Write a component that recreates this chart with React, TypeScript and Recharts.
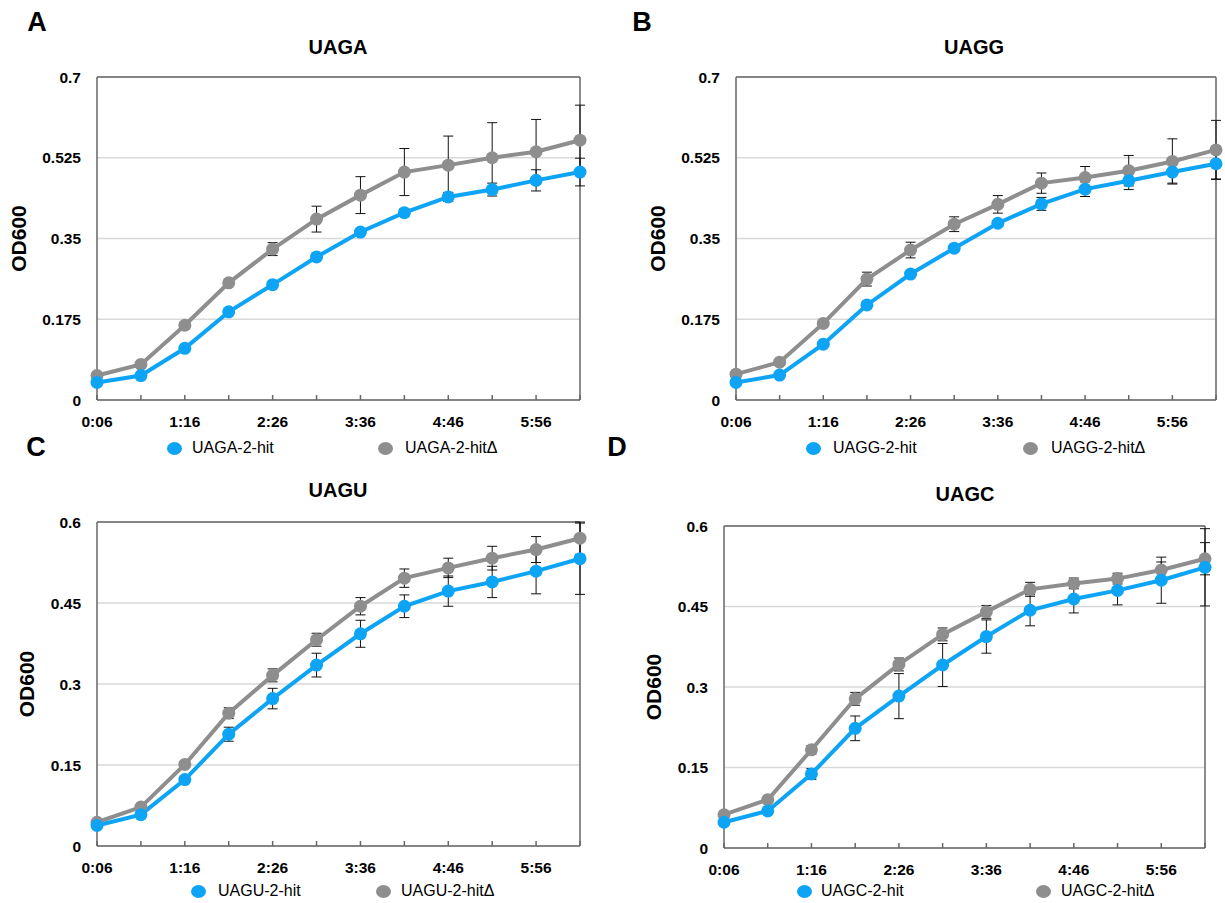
import { LineChart, Line, XAxis, YAxis, CartesianGrid, ErrorBar, ReferenceLine } from "recharts";

const times = ["0:06", "0:41", "1:16", "1:51", "2:26", "3:01", "3:36", "4:11", "4:46", "5:21", "5:56", "6:31"];

// UAGA
const uagaHit = [0.038, 0.053, 0.112, 0.191, 0.25, 0.31, 0.364, 0.406, 0.44, 0.456, 0.476, 0.494];
const uagaHitErr = [0.002, 0.002, 0.002, 0.002, 0.002, 0.003, 0.006, 0.008, 0.01, 0.014, 0.023, 0.03];
const uagaDelta = [0.053, 0.077, 0.162, 0.254, 0.327, 0.392, 0.444, 0.494, 0.509, 0.525, 0.538, 0.563];
const uagaDeltaErr = [0.003, 0.003, 0.008, 0.005, 0.014, 0.028, 0.04, 0.051, 0.063, 0.076, 0.07, 0.076];

// UAGG
const uaggHit = [0.038, 0.054, 0.121, 0.206, 0.273, 0.329, 0.383, 0.425, 0.457, 0.475, 0.494, 0.512];
const uaggHitErr = [0.002, 0.002, 0.003, 0.003, 0.003, 0.004, 0.006, 0.014, 0.016, 0.019, 0.024, 0.033];
const uaggDelta = [0.056, 0.082, 0.166, 0.262, 0.325, 0.381, 0.424, 0.47, 0.482, 0.497, 0.517, 0.542];
const uaggDeltaErr = [0.003, 0.003, 0.004, 0.015, 0.017, 0.016, 0.019, 0.022, 0.024, 0.033, 0.049, 0.064];

// UAGU
const uaguHit = [0.038, 0.058, 0.123, 0.207, 0.273, 0.335, 0.393, 0.444, 0.472, 0.489, 0.509, 0.532];
const uaguHitErr = [0.003, 0.003, 0.006, 0.013, 0.019, 0.022, 0.025, 0.021, 0.028, 0.029, 0.042, 0.066];
const uaguDelta = [0.044, 0.072, 0.151, 0.246, 0.316, 0.382, 0.444, 0.496, 0.515, 0.533, 0.549, 0.57];
const uaguDeltaErr = [0.003, 0.003, 0.004, 0.01, 0.012, 0.012, 0.016, 0.017, 0.018, 0.022, 0.024, 0.03];

// UAGC
const uagcHit = [0.048, 0.069, 0.138, 0.223, 0.283, 0.341, 0.394, 0.443, 0.464, 0.48, 0.499, 0.523];
const uagcHitErr = [0.003, 0.005, 0.01, 0.023, 0.042, 0.04, 0.031, 0.029, 0.026, 0.027, 0.043, 0.072];
const uagcDelta = [0.062, 0.09, 0.183, 0.278, 0.342, 0.398, 0.44, 0.482, 0.493, 0.502, 0.518, 0.539];
const uagcDeltaErr = [0.003, 0.003, 0.008, 0.012, 0.012, 0.012, 0.012, 0.013, 0.01, 0.01, 0.015, 0.03];

const ticks07 = [0, 0.175, 0.35, 0.525, 0.7];
const ticks06 = [0, 0.15, 0.3, 0.45, 0.6];

const BLUE = "#0ea4f6";
const GRAY = "#8e8e8e";
const AXIS = "#666";
const FONT = '"Liberation Sans", Arial, Helvetica, sans-serif';

type TxtProps = { x: number; y: number; size: number; bold?: boolean; center?: boolean; children: any };

const Txt = ({ x, y, size, bold, center = true, children }: TxtProps) => (
  <div
    style={{
      position: "absolute",
      left: x,
      top: y,
      transform: `translate(${center ? "-50%" : "0"}, -50%)`,
      fontFamily: FONT,
      fontSize: size,
      fontWeight: bold ? 700 : 400,
      lineHeight: 1,
      whiteSpace: "nowrap",
      color: "#000",
    }}
  >
    {children}
  </div>
);

const LegendItem = ({ mx, tx, y, color, label }: { mx: number; tx: number; y: number; color: string; label: string }) => (
  <>
    <div
      style={{
        position: "absolute",
        left: mx - 7.5,
        top: y - 6.5,
        width: 15,
        height: 13,
        borderRadius: "50%",
        background: color,
      }}
    />
    <Txt x={tx} y={y} size={16} center={false}>
      {label}
    </Txt>
  </>
);

type PanelProps = {
  title: string;
  hit: number[];
  hitErr: number[];
  delta: number[];
  deltaErr: number[];
  max: number;
  ticks: number[];
  x0: number;
  x1: number;
  y0: number;
  y1: number;
  labelOffset: number;
  titleX: number;
  titleY: number;
  legend: { bx: number; btx: number; gx: number; gtx: number; y: number };
};

const Panel = (p: PanelProps) => {
  const data = times.map((t, i) => ({
    time: t,
    hit: p.hit[i],
    hitErr: p.hitErr[i],
    delta: p.delta[i],
    deltaErr: p.deltaErr[i],
  }));
  const left = p.x0 - 97;
  const top = p.y0 - 10;
  const width = p.x1 - p.x0 + 97 + 10;
  const height = p.y1 - p.y0 + 10 + 40;
  const tickStyle = { fill: "#000", fontSize: 15.5, fontWeight: 700, fontFamily: FONT };
  return (
    <>
      <Txt x={p.titleX} y={p.titleY} size={20} bold>
        {p.title}
      </Txt>
      <div style={{ position: "absolute", left, top }}>
        <LineChart width={width} height={height} data={data} margin={{ top: 10, right: 10, left: 0, bottom: 0 }}>
          <CartesianGrid vertical={false} stroke="#d9d9d9" strokeWidth={1.5} />
          <XAxis
            dataKey="time"
            height={40}
            interval={0}
            tickSize={-5}
            tickMargin={21}
            stroke={AXIS}
            strokeWidth={1.5}
            tickFormatter={(v: string, i: number) => (i % 2 === 0 ? v : "")}
            tick={tickStyle}
          />
          <YAxis
            width={97}
            domain={[0, p.max]}
            ticks={p.ticks}
            tickLine={false}
            tickSize={0}
            tickMargin={16}
            stroke={AXIS}
            strokeWidth={1.5}
            tick={tickStyle}
            label={{
              value: "OD600",
              angle: -90,
              position: "insideLeft",
              offset: p.labelOffset,
              style: { textAnchor: "middle", fontSize: 21, fontWeight: 700, fontFamily: FONT, fill: "#000" },
            }}
          />
          <ReferenceLine y={p.max} stroke={AXIS} strokeWidth={1.5} />
          <ReferenceLine x={times[times.length - 1]} stroke={AXIS} strokeWidth={1.5} />
          <Line
            dataKey="delta"
            stroke={GRAY}
            strokeWidth={4}
            dot={{ r: 6.5, fill: GRAY, stroke: GRAY, strokeWidth: 0 }}
            activeDot={false}
            isAnimationActive={false}
          >
            <ErrorBar dataKey="deltaErr" width={5} strokeWidth={1} stroke="#111" direction="y" />
          </Line>
          <Line
            dataKey="hit"
            stroke={BLUE}
            strokeWidth={4}
            dot={{ r: 6.5, fill: BLUE, stroke: BLUE, strokeWidth: 0 }}
            activeDot={false}
            isAnimationActive={false}
          >
            <ErrorBar dataKey="hitErr" width={5} strokeWidth={1} stroke="#111" direction="y" />
          </Line>
        </LineChart>
      </div>
      <LegendItem mx={p.legend.bx} tx={p.legend.btx} y={p.legend.y} color={BLUE} label={`${p.title}-2-hit`} />
      <LegendItem mx={p.legend.gx} tx={p.legend.gtx} y={p.legend.y} color={GRAY} label={`${p.title}-2-hitΔ`} />
    </>
  );
};

export default function App() {
  return (
    <div style={{ position: "absolute", left: 0, top: 0, width: 1225, height: 903, background: "#fff", overflow: "hidden" }}>
      <Txt x={37} y={22} size={27} bold>A</Txt>
      <Txt x={642} y={22} size={27} bold>B</Txt>
      <Txt x={36} y={447} size={27} bold>C</Txt>
      <Txt x={617} y={447} size={27} bold>D</Txt>
      <Panel
        title="UAGA"
        hit={uagaHit}
        hitErr={uagaHitErr}
        delta={uagaDelta}
        deltaErr={uagaDeltaErr}
        max={0.7}
        ticks={ticks07}
        x0={97}
        x1={580}
        y0={77}
        y1={400}
        labelOffset={19}
        titleX={338}
        titleY={47}
        legend={{ bx: 174, btx: 192, gx: 385, gtx: 405, y: 448 }}
      />
      <Panel
        title="UAGG"
        hit={uaggHit}
        hitErr={uaggHitErr}
        delta={uaggDelta}
        deltaErr={uaggDeltaErr}
        max={0.7}
        ticks={ticks07}
        x0={736}
        x1={1216}
        y0={77}
        y1={400}
        labelOffset={19}
        titleX={974}
        titleY={47}
        legend={{ bx: 813, btx: 833, gx: 1030, gtx: 1051, y: 448 }}
      />
      <Panel
        title="UAGU"
        hit={uaguHit}
        hitErr={uaguHitErr}
        delta={uaguDelta}
        deltaErr={uaguDeltaErr}
        max={0.6}
        ticks={ticks06}
        x0={97}
        x1={580}
        y0={522}
        y1={846}
        labelOffset={27}
        titleX={338}
        titleY={490}
        legend={{ bx: 198, btx: 218, gx: 383, gtx: 401, y: 891 }}
      />
      <Panel
        title="UAGC"
        hit={uagcHit}
        hitErr={uagcHitErr}
        delta={uagcDelta}
        deltaErr={uagcDeltaErr}
        max={0.6}
        ticks={ticks06}
        x0={724}
        x1={1205}
        y0={526}
        y1={848}
        labelOffset={27}
        titleX={965}
        titleY={494}
        legend={{ bx: 804, btx: 821, gx: 1043, gtx: 1061, y: 891 }}
      />
    </div>
  );
}
